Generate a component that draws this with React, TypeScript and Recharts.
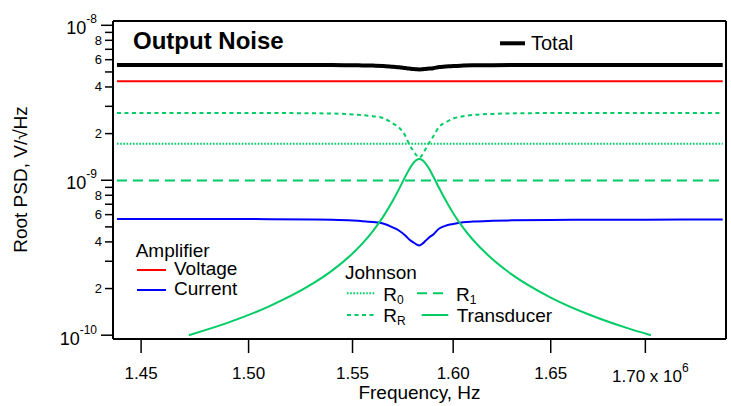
import React from 'react'
import { LineChart, Line, XAxis, YAxis } from 'recharts'

// frequency in MHz (axis shows x 10^6), noise in nV/sqrt(Hz)
const xTicks = [1.45, 1.5, 1.55, 1.6, 1.65, 1.7]
const xTickLabels = ['1.45', '1.50', '1.55', '1.60', '1.65', '1.70']
const yTicks = [0.1, 0.2, 0.3, 0.4, 0.5, 0.6, 0.7, 0.8, 0.9, 1, 2, 3, 4, 5, 6, 7, 8, 9, 10]
const yExponents: Record<string, string> = { '0.1': '-10', '1': '-9', '10': '-8' }

const flatFreq = [1.439, 1.742]
const voltage = [4.36, 4.36]
const r0 = [1.72, 1.72]
const r1 = [0.995, 0.995]

const totalFreq = [1.439, 1.5, 1.54, 1.55, 1.555, 1.56, 1.565, 1.57, 1.573, 1.576, 1.578, 1.58, 1.5815, 1.583, 1.5845, 1.586, 1.588, 1.59, 1.593, 1.596, 1.6, 1.605, 1.61, 1.62, 1.63, 1.65, 1.742]
const total = [5.54, 5.54, 5.535, 5.52, 5.51, 5.495, 5.47, 5.4, 5.36, 5.295, 5.255, 5.215, 5.2, 5.19, 5.2, 5.225, 5.255, 5.29, 5.38, 5.415, 5.465, 5.495, 5.515, 5.527, 5.535, 5.54, 5.54]

const currentFreq = [1.439, 1.49, 1.51, 1.53, 1.54, 1.55, 1.555, 1.56, 1.565, 1.57, 1.573, 1.576, 1.578, 1.58, 1.5815, 1.583, 1.5845, 1.586, 1.588, 1.59, 1.593, 1.596, 1.6, 1.605, 1.61, 1.62, 1.63, 1.65, 1.67, 1.7, 1.742]
const current = [0.563, 0.562, 0.561, 0.558, 0.555, 0.549, 0.544, 0.537, 0.526, 0.495, 0.472, 0.44, 0.415, 0.397, 0.386, 0.379, 0.389, 0.405, 0.428, 0.447, 0.488, 0.508, 0.522, 0.535, 0.541, 0.547, 0.551, 0.554, 0.556, 0.557, 0.558]

const rrFreq = [1.439, 1.51, 1.53, 1.54, 1.55, 1.555, 1.56, 1.565, 1.57, 1.573, 1.576, 1.578, 1.58, 1.5815, 1.583, 1.5845, 1.586, 1.588, 1.59, 1.593, 1.596, 1.6, 1.605, 1.61, 1.62, 1.63, 1.65, 1.742]
const rr = [2.72, 2.715, 2.705, 2.695, 2.66, 2.63, 2.59, 2.52, 2.32, 2.18, 1.94, 1.7, 1.55, 1.45, 1.4, 1.46, 1.58, 1.75, 1.92, 2.22, 2.35, 2.5, 2.59, 2.64, 2.68, 2.7, 2.715, 2.72]

const trFreq = [1.472, 1.49, 1.51, 1.53, 1.54, 1.55, 1.555, 1.56, 1.565, 1.57, 1.573, 1.576, 1.578, 1.58, 1.5815, 1.583, 1.5845, 1.586, 1.588, 1.59, 1.593, 1.596, 1.6, 1.605, 1.61, 1.62, 1.63, 1.65, 1.67, 1.69, 1.703]
const transducer = [0.1, 0.12, 0.154, 0.2125, 0.261, 0.337, 0.393, 0.47, 0.58, 0.745, 0.883, 1.055, 1.179, 1.291, 1.349, 1.37, 1.349, 1.291, 1.18, 1.057, 0.887, 0.75, 0.613, 0.495, 0.413, 0.309, 0.246, 0.175, 0.136, 0.1115, 0.1]

const pts = (fs: number[], vs: number[]) => fs.map((f, i) => ({ f, v: vs[i] }))

const FONT = '"Liberation Sans", Arial, Helvetica, sans-serif'
const GREEN = '#00cc66'
const X_DOMAIN = [1.4372, 1.7438]
const Y_DOMAIN = [0.0945, 10.66]

function BottomTick(props: any) {
  const { x, y, payload } = props
  const i = xTicks.indexOf(payload.value)
  if (payload.value === 1.7) {
    return (
      <text x={x + 5} y={y + 29} textAnchor="middle" fontSize={17} fontFamily={FONT} fill="#000">
        {xTickLabels[i]} x 10<tspan fontSize={12} dy={-10}>6</tspan>
      </text>
    )
  }
  return (
    <text x={x} y={y + 26} textAnchor="middle" fontSize={17} fontFamily={FONT} fill="#000">
      {xTickLabels[i]}
    </text>
  )
}

function LeftTick(props: any) {
  const { x, y, payload } = props
  const v = payload.value
  const exp = yExponents[String(v)]
  const digit = v < 1 ? Math.round(v * 10) : Math.round(v)
  const len = exp ? 12 : 8
  return (
    <g>
      <line x1={x - len} x2={x} y1={y} y2={y} stroke="#000" strokeWidth={1.5} />
      {exp ? (
        <text x={x - 16} y={y + (v === 0.1 ? 10 : 9)} textAnchor="end" fontSize={18} fontFamily={FONT} fill="#000">
          10<tspan fontSize={12} dy={-11}>{exp}</tspan>
        </text>
      ) : digit % 2 === 0 ? (
        <text x={x - 11} y={y + 4.5} textAnchor="end" fontSize={13} fontFamily={FONT} fill="#000">
          {digit}
        </text>
      ) : null}
    </g>
  )
}

const axisStroke = { stroke: '#000', strokeWidth: 2 }
const tickStroke = { stroke: '#000', strokeWidth: 1.5 }

export default function App() {
  return (
    <div style={{ position: 'absolute', left: 0, top: 0, width: 731, height: 406, background: '#fff', fontFamily: FONT }}>
      <LineChart width={731} height={406} margin={{ top: 20, right: 0, bottom: 0, left: 0 }}>
        <XAxis xAxisId="b" type="number" dataKey="f" scale="log" domain={X_DOMAIN} allowDataOverflow
          ticks={xTicks} interval={0} height={67} tickSize={14} tickMargin={0}
          axisLine={axisStroke} tickLine={tickStroke} tick={<BottomTick />} />
        <XAxis xAxisId="t" orientation="top" type="number" dataKey="f" scale="log" domain={X_DOMAIN} allowDataOverflow
          ticks={xTicks} interval={0} height={1} tickSize={14}
          axisLine={axisStroke} tickLine={tickStroke} tick={false} />
        <YAxis yAxisId="l" type="number" scale="log" domain={Y_DOMAIN} allowDataOverflow
          ticks={yTicks} interval={0} width={113} tickSize={0} tickMargin={0}
          axisLine={axisStroke} tickLine={false} tick={<LeftTick />} />
        <YAxis yAxisId="r" orientation="right" type="number" scale="log" domain={Y_DOMAIN} allowDataOverflow
          ticks={yTicks} interval={0} width={5} tickSize={5}
          axisLine={axisStroke} tickLine={tickStroke} tick={false} />

        <Line xAxisId="b" yAxisId="l" data={pts(flatFreq, voltage)} dataKey="v" type="monotone"
          stroke="#ff0000" strokeWidth={2} dot={false} isAnimationActive={false} />
        <Line xAxisId="b" yAxisId="l" data={pts(currentFreq, current)} dataKey="v" type="monotone"
          stroke="#0000ff" strokeWidth={2} dot={false} isAnimationActive={false} />
        <Line xAxisId="b" yAxisId="l" data={pts(flatFreq, r0)} dataKey="v" type="monotone"
          stroke={GREEN} strokeWidth={2} strokeDasharray="1.6 1.6" dot={false} isAnimationActive={false} />
        <Line xAxisId="b" yAxisId="l" data={pts(flatFreq, r1)} dataKey="v" type="monotone"
          stroke={GREEN} strokeWidth={2} strokeDasharray="10 6" dot={false} isAnimationActive={false} />
        <Line xAxisId="b" yAxisId="l" data={pts(rrFreq, rr)} dataKey="v" type="monotone"
          stroke={GREEN} strokeWidth={2} strokeDasharray="4 3.5" dot={false} isAnimationActive={false} />
        <Line xAxisId="b" yAxisId="l" data={pts(trFreq, transducer)} dataKey="v" type="monotone"
          stroke={GREEN} strokeWidth={2} dot={false} isAnimationActive={false} />
        <Line xAxisId="b" yAxisId="l" data={pts(totalFreq, total)} dataKey="v" type="monotone"
          stroke="#000" strokeWidth={4} dot={false} isAnimationActive={false} />
      </LineChart>

      <svg width={731} height={406} style={{ position: 'absolute', left: 0, top: 0, pointerEvents: 'none' }}
        fontFamily={FONT} fill="#000">
        <text x={133} y={49.3} fontSize={24} fontWeight="bold">Output Noise</text>

        <line x1={500} x2={525} y1={43.3} y2={43.3} stroke="#000" strokeWidth={4} />
        <text x={531} y={50} fontSize={20}>Total</text>

        <text x={27} y={179.5} fontSize={19} textAnchor="middle" transform="rotate(-90 27 179.5)">
          Root PSD, V/√Hz
        </text>
        <text x={419.5} y={399} fontSize={19} textAnchor="middle">Frequency, Hz</text>

        <text x={135.7} y={256.7} fontSize={19}>Amplifier</text>
        <line x1={137} x2={166} y1={270} y2={270} stroke="#ff0000" strokeWidth={2} />
        <text x={174} y={275} fontSize={19}>Voltage</text>
        <line x1={137} x2={166} y1={290} y2={290} stroke="#0000ff" strokeWidth={2} />
        <text x={174} y={294.5} fontSize={19}>Current</text>

        <text x={345} y={279} fontSize={19}>Johnson</text>
        <line x1={347} x2={375} y1={293.3} y2={293.3} stroke={GREEN} strokeWidth={2} strokeDasharray="1.6 1.6" />
        <text x={383.3} y={301} fontSize={19}>R<tspan fontSize={12} dy={3}>0</tspan></text>
        <line x1={417} x2={445} y1={293.3} y2={293.3} stroke={GREEN} strokeWidth={2} strokeDasharray="10 6" />
        <text x={456} y={301} fontSize={19}>R<tspan fontSize={12} dy={3}>1</tspan></text>

        <line x1={347} x2={375} y1={315} y2={315} stroke={GREEN} strokeWidth={2} strokeDasharray="4 3.5" />
        <text x={383.3} y={321.5} fontSize={19}>R<tspan fontSize={12} dy={3}>R</tspan></text>
        <line x1={421.7} x2={448.3} y1={315} y2={315} stroke={GREEN} strokeWidth={2} />
        <text x={456.7} y={321.5} fontSize={19}>Transducer</text>
      </svg>
    </div>
  )
}
